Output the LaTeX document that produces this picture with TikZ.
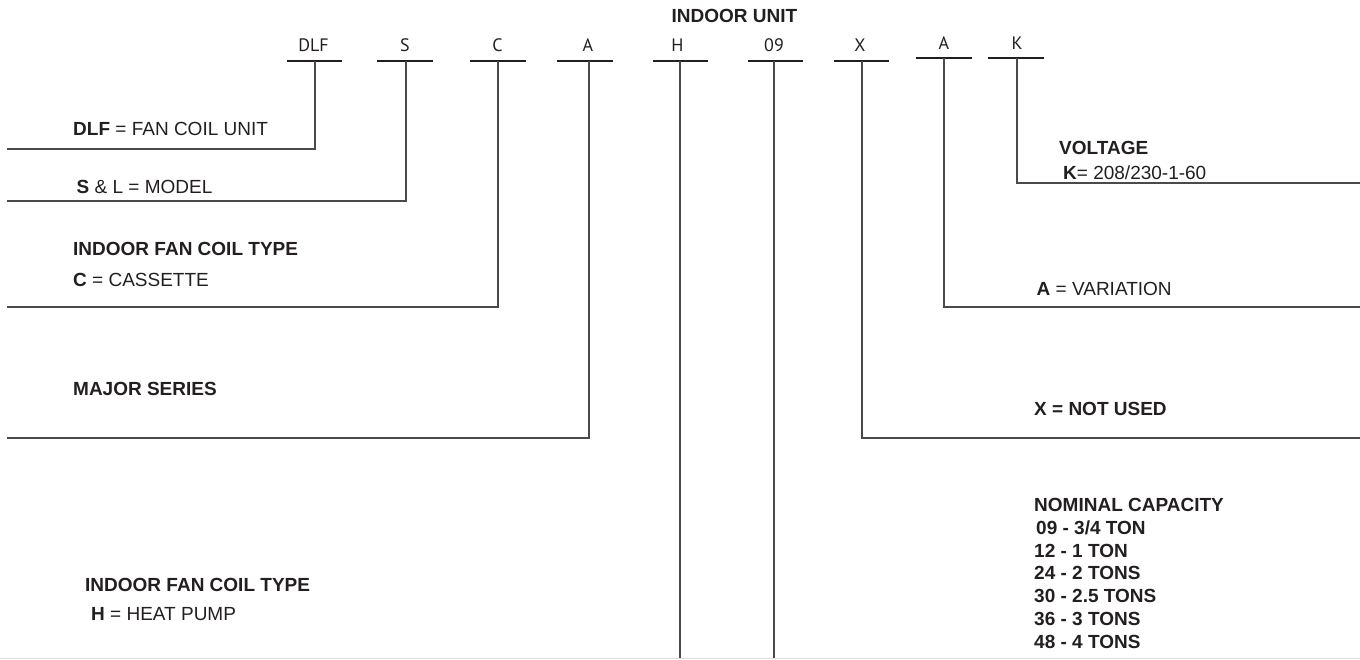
\documentclass[tikz,border=0pt]{standalone}
\usepackage{fontspec}
\setmainfont{Liberation Sans}
\newfontfamily\codefont{PT Sans}
\usepackage{xcolor}
\usetikzlibrary{calc}
\definecolor{inkdark}{HTML}{231F20}
\definecolor{leadgray}{HTML}{4A4A4A}

\begin{document}
\begin{tikzpicture}[x=1pt, y=-1pt,
  bar/.style={line width=1.1pt, draw=inkdark},
  lead/.style={line width=1.1pt, draw=leadgray},
  code/.style={font=\codefont\fontsize{18}{20}\selectfont, text=inkdark, inner sep=0pt, anchor=base},
  desc/.style={font=\fontsize{19}{23}\selectfont, text=inkdark, inner sep=0pt, anchor=base west},
  head/.style={desc, font=\bfseries\fontsize{19}{23}\selectfont},
]
\useasboundingbox (0,0) rectangle (1360,659);

% ---------- title ----------
\node[head, anchor=base] (title) at (734.5,22) {INDOOR UNIT};

% ---------- code letters, their bars and the top of each leader ----------
\foreach \name/\lbl/\tx/\ty/\bl/\br/\by/\vx in {%
  dlf/DLF/313.5/51/287/342/61/315,
  s/S/405/51/377/433/61/406,
  c/C/497.5/51/470/526/61/498,
  a/A/588/51/557/613/61/589,
  h/H/677.5/51/653/708/61/680,
  cap/09/774/51/748/803/61/774,
  x/X/860/51/834/889/61/862,
  var/A/944/49/916/972/58/944,
  k/K/1017/49/988/1044/58/1017%
} {
  \node[code] (\name) at (\tx,\ty) {\lbl};
  \draw[bar] (\bl,\by) -- (\br,\by);
  \coordinate (\name-top) at (\vx,\by);
}

% ---------- leaders: down from the bar, then out to the edge ----------
\foreach \name/\ex/\ey in {%
  dlf/7/149, s/7/201, c/7/307, a/7/438,
  k/1360/183, var/1360/307, x/1360/438%
} {
  \coordinate (\name-end) at (\ex,\ey);
  \draw[lead] (\name-top) |- (\name-end);
}
\coordinate (h-end) at (680,659);
\coordinate (cap-end) at (774,659);
\draw[lead] (h-top) -- (h-end);
\draw[lead] (cap-top) -- (cap-end);

% faint rule along the bottom edge
\coordinate (foot-l) at (0,658);
\coordinate (foot-r) at (1360,658);
\draw[line width=1pt, draw=black!12] (foot-l) -- (foot-r);

% ---------- left side descriptions ----------
\node[desc] (dlf-txt) at (73,135) {\textbf{DLF} = FAN COIL UNIT};
\node[desc] (s-txt) at (76.5,193) {\textbf{S} \& L = MODEL};
\node[head] (c-head) at (73,255) {INDOOR FAN COIL TYPE};
\node[desc] (c-txt) at (73,286.5) {\textbf{C} = CASSETTE};
\node[head] (a-head) at (73,395) {MAJOR SERIES};
\node[head] (h-head) at (85,591.5) {INDOOR FAN COIL TYPE};
\node[desc] (h-txt) at (91,620) {\textbf{H} = HEAT PUMP};

% ---------- right side descriptions ----------
\node[head] (k-head) at (1059,154.5) {VOLTAGE};
\node[desc] (k-txt) at (1063,179.5) {\textbf{K}= 208/230-1-60};
\node[desc] (var-txt) at (1036.5,295.5) {\textbf{A} = VARIATION};
\node[head] (x-txt) at (1034,415.5) {X = NOT USED};
\foreach \i/\txt/\lx/\yb in {%
  0/{NOMINAL CAPACITY}/1034/511,
  1/{09 - 3/4 TON}/1036/534,
  2/{12 - 1 TON}/1034/557,
  3/{24 - 2 TONS}/1034/579.5,
  4/{30 - 2.5 TONS}/1034/602.5,
  5/{36 - 3 TONS}/1034/625,
  6/{48 - 4 TONS}/1034/648%
} {
  \node[head] (cap-txt\i) at (\lx,\yb) {\txt};
}
\end{tikzpicture}
\end{document}
